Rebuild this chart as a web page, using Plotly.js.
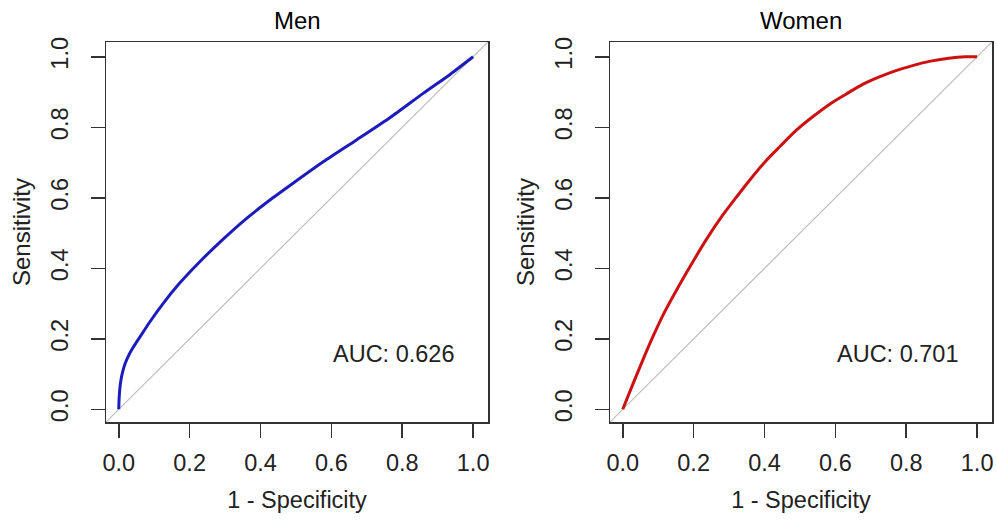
<!DOCTYPE html>
<html>
<head>
<meta charset="utf-8">
<script src="https://cdn.plot.ly/plotly-3.0.1.min.js"></script>
<style>html,body{margin:0;padding:0;background:#fff;}#chart{width:997px;height:527px;}</style>
</head>
<body>
<div id="chart"></div>
<script>
// ---- data ----
const panelTitles = ["Men", "Women"];
const aucLabels = ["AUC: 0.626", "AUC: 0.701"];
const xAxisTitle = "1 - Specificity";
const yAxisTitle = "Sensitivity";
const tickValues = [0, 0.2, 0.4, 0.6, 0.8, 1.0];
const tickLabels = ["0.0", "0.2", "0.4", "0.6", "0.8", "1.0"];
const axisRange = [-0.036, 1.042];

const menFPR = [0, 0.001, 0.003, 0.006, 0.011, 0.018, 0.030, 0.044, 0.059, 0.087, 0.125, 0.172, 0.228, 0.294, 0.360, 0.435, 0.487,
                0.578, 0.672, 0.766, 0.860, 0.935, 1.0];
const menTPR = [0, 0.030, 0.058, 0.082, 0.106, 0.130, 0.157, 0.181, 0.204, 0.247, 0.300, 0.358, 0.418, 0.482, 0.541, 0.600, 0.638,
                0.703, 0.765, 0.828, 0.897, 0.950, 1.0];

const womenFPR = [0, 0.030, 0.058, 0.086, 0.114, 0.150, 0.190, 0.236, 0.283, 0.320, 0.358, 0.405, 0.443,
                  0.490, 0.536, 0.583, 0.630, 0.677, 0.724, 0.771, 0.818, 0.865, 0.920, 0.967, 1.0];
const womenTPR = [0, 0.075, 0.143, 0.208, 0.268, 0.335, 0.405, 0.482, 0.552, 0.601, 0.650, 0.706, 0.745,
                  0.792, 0.830, 0.865, 0.894, 0.922, 0.943, 0.961, 0.975, 0.987, 0.996, 1.0, 1.0];

// ---- chart ----
const FONT = '"Liberation Sans", Arial, sans-serif';
const TXT = '#222';

const traces = [
  {x: axisRange, y: axisRange, xaxis: 'x', yaxis: 'y', mode: 'lines',
   line: {color: '#bdbdbd', width: 1.2}, hoverinfo: 'skip'},
  {x: menFPR, y: menTPR, xaxis: 'x', yaxis: 'y', mode: 'lines',
   line: {color: '#1c1cbc', width: 3, shape: 'spline', smoothing: 0.6}},
  {x: axisRange, y: axisRange, xaxis: 'x2', yaxis: 'y2', mode: 'lines',
   line: {color: '#bdbdbd', width: 1.2}, hoverinfo: 'skip'},
  {x: womenFPR, y: womenTPR, xaxis: 'x2', yaxis: 'y2', mode: 'lines',
   line: {color: '#cc1111', width: 3, shape: 'spline', smoothing: 0.8}}
];

function xAxis(domain, anchor) {
  return {
    domain: domain, anchor: anchor, range: axisRange,
    showline: true, mirror: true, linecolor: '#333', linewidth: 1.5,
    ticks: 'outside', ticklen: 14, tickwidth: 1.5, tickcolor: '#333',
    tickvals: tickValues, ticktext: tickLabels,
    tickfont: {family: FONT, size: 23.5, color: TXT},
    ticklabelstandoff: 5,
    showgrid: false, zeroline: false,
    title: {text: xAxisTitle, font: {family: FONT, size: 23.5, color: TXT}, standoff: 17}
  };
}
function yAxis(domain, anchor) {
  return {
    domain: domain, anchor: anchor, range: axisRange,
    showline: true, mirror: true, linecolor: '#333', linewidth: 1.5,
    ticks: 'outside', ticklen: 14, tickwidth: 1.5, tickcolor: '#333',
    tickvals: tickValues, ticktext: tickLabels, tickangle: -90,
    tickfont: {family: FONT, size: 23.5, color: TXT},
    ticklabelstandoff: 13,
    showgrid: false, zeroline: false
  };
}

const W = 997, H = 527;
const xd1 = [106 / W, 488 / W];
const xd2 = [610 / W, 992 / W];
const yd = [(H - 422) / H, (H - 42) / H];
const yMid = (yd[0] + yd[1]) / 2;

function yTitle(xPix) {
  return {text: yAxisTitle, xref: 'paper', yref: 'paper', x: xPix / W, y: yMid,
          xanchor: 'center', yanchor: 'middle', textangle: -90, showarrow: false,
          font: {family: FONT, size: 24, color: TXT}};
}

const layout = {
  width: W, height: H,
  margin: {l: 0, r: 0, t: 0, b: 0},
  paper_bgcolor: '#fff', plot_bgcolor: '#fff',
  showlegend: false,
  font: {family: FONT, color: TXT},
  xaxis: xAxis(xd1, 'y'),
  yaxis: yAxis(yd, 'x'),
  xaxis2: xAxis(xd2, 'y2'),
  yaxis2: yAxis(yd, 'x2'),
  annotations: [
    {text: panelTitles[0], xref: 'paper', yref: 'paper', x: (xd1[0] + xd1[1]) / 2, y: 1 - 20 / H,
     xanchor: 'center', yanchor: 'middle', showarrow: false, font: {family: FONT, size: 24, color: '#000'}},
    {text: panelTitles[1], xref: 'paper', yref: 'paper', x: (xd2[0] + xd2[1]) / 2, y: 1 - 20 / H,
     xanchor: 'center', yanchor: 'middle', showarrow: false, font: {family: FONT, size: 24, color: '#000'}},
    yTitle(22),
    yTitle(526),
    {text: aucLabels[0], xref: 'x', yref: 'y', x: 0.6, y: 0.2, xanchor: 'left', yanchor: 'top',
     showarrow: false, font: {family: FONT, size: 23.5, color: TXT}},
    {text: aucLabels[1], xref: 'x2', yref: 'y2', x: 0.6, y: 0.2, xanchor: 'left', yanchor: 'top',
     showarrow: false, font: {family: FONT, size: 23.5, color: TXT}}
  ]
};

Plotly.newPlot('chart', traces, layout, {displayModeBar: false, staticPlot: true});
</script>
</body>
</html>
